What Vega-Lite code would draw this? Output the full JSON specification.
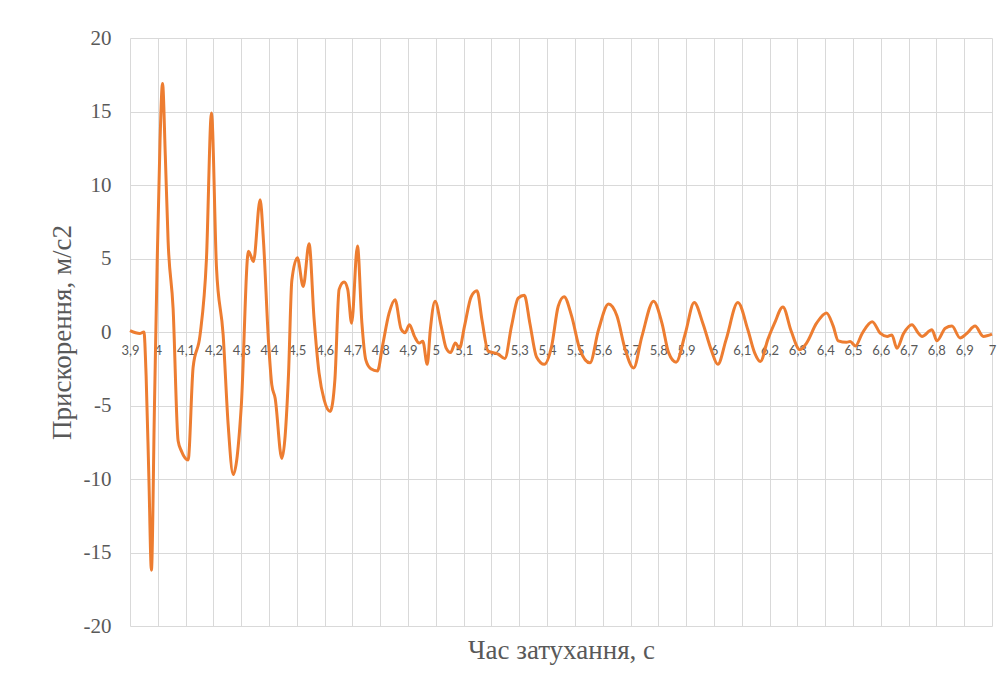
{
  "$schema": "https://vega.github.io/schema/vega-lite/v6.json",
  "width": 862,
  "height": 588,
  "autosize": {"type": "none"},
  "padding": {"left": 130, "top": 38, "right": 16, "bottom": 58},
  "background": "white",
  "config": {
    "view": {"stroke": null},
    "font": "Liberation Serif",
    "axis": {"gridColor": "#D9D9D9", "gridWidth": 1, "labelColor": "#595959", "titleColor": "#595959", "labelFont": "Liberation Serif", "titleFont": "Liberation Serif", "titleFontWeight": "normal"}
  },
  "data": {"values": [
    {"t": 3.900, "a": 0.1}, {"t": 3.920, "a": -0.05}, {"t": 3.935, "a": -0.1}, {"t": 3.950, "a": 0.0},
    {"t": 3.958, "a": -3}, {"t": 3.968, "a": -10}, {"t": 3.977, "a": -16.2}, {"t": 3.988, "a": -5},
    {"t": 3.998, "a": 5}, {"t": 4.008, "a": 13}, {"t": 4.017, "a": 16.9}, {"t": 4.027, "a": 12},
    {"t": 4.037, "a": 6.2}, {"t": 4.055, "a": 1.6}, {"t": 4.073, "a": -7.4}, {"t": 4.085, "a": -8.1},
    {"t": 4.109, "a": -8.7}, {"t": 4.127, "a": -2.4}, {"t": 4.152, "a": -0.2}, {"t": 4.175, "a": 5.0},
    {"t": 4.193, "a": 14.9}, {"t": 4.211, "a": 4.4}, {"t": 4.235, "a": -0.2}, {"t": 4.253, "a": -6.3},
    {"t": 4.271, "a": -9.7}, {"t": 4.300, "a": -5.1}, {"t": 4.326, "a": 5.5}, {"t": 4.344, "a": 4.8},
    {"t": 4.368, "a": 9.0}, {"t": 4.380, "a": 6.2}, {"t": 4.398, "a": -0.6}, {"t": 4.410, "a": -3.6},
    {"t": 4.422, "a": -4.5}, {"t": 4.446, "a": -8.6}, {"t": 4.470, "a": -2.9}, {"t": 4.482, "a": 3.5},
    {"t": 4.502, "a": 5.05}, {"t": 4.523, "a": 3.1}, {"t": 4.544, "a": 6.0}, {"t": 4.562, "a": 0.9},
    {"t": 4.580, "a": -2.8}, {"t": 4.598, "a": -4.6}, {"t": 4.620, "a": -5.4}, {"t": 4.637, "a": -3.2},
    {"t": 4.652, "a": 2.9}, {"t": 4.670, "a": 3.4}, {"t": 4.683, "a": 2.9}, {"t": 4.697, "a": 0.6},
    {"t": 4.718, "a": 5.85}, {"t": 4.734, "a": 0.6}, {"t": 4.748, "a": -1.9}, {"t": 4.766, "a": -2.5},
    {"t": 4.790, "a": -2.65}, {"t": 4.808, "a": -0.95}, {"t": 4.832, "a": 1.3}, {"t": 4.853, "a": 2.2},
    {"t": 4.875, "a": 0.2}, {"t": 4.889, "a": -0.05}, {"t": 4.905, "a": 0.5}, {"t": 4.923, "a": -0.3},
    {"t": 4.940, "a": -0.75}, {"t": 4.953, "a": -0.63}, {"t": 4.969, "a": -2.2}, {"t": 4.980, "a": 0.16},
    {"t": 4.997, "a": 2.1}, {"t": 5.019, "a": 0.4}, {"t": 5.037, "a": -1.1}, {"t": 5.053, "a": -1.4},
    {"t": 5.070, "a": -0.75}, {"t": 5.085, "a": -1.1}, {"t": 5.103, "a": 0.4}, {"t": 5.127, "a": 2.4},
    {"t": 5.148, "a": 2.8}, {"t": 5.166, "a": 0.8}, {"t": 5.188, "a": -1.3}, {"t": 5.224, "a": -1.5},
    {"t": 5.248, "a": -1.8}, {"t": 5.272, "a": 0.4}, {"t": 5.296, "a": 2.3}, {"t": 5.318, "a": 2.5},
    {"t": 5.338, "a": 0.6}, {"t": 5.362, "a": -1.7}, {"t": 5.390, "a": -2.2}, {"t": 5.416, "a": -1.0},
    {"t": 5.440, "a": 1.75}, {"t": 5.461, "a": 2.4}, {"t": 5.488, "a": 1.1}, {"t": 5.518, "a": -1.2},
    {"t": 5.554, "a": -2.1}, {"t": 5.585, "a": 0.15}, {"t": 5.621, "a": 1.9}, {"t": 5.651, "a": 1.1},
    {"t": 5.681, "a": -1.2}, {"t": 5.711, "a": -2.45}, {"t": 5.741, "a": -0.3}, {"t": 5.783, "a": 2.1},
    {"t": 5.813, "a": 0.6}, {"t": 5.837, "a": -1.4}, {"t": 5.864, "a": -2.05}, {"t": 5.897, "a": -0.1},
    {"t": 5.929, "a": 2.0}, {"t": 5.960, "a": 0.6}, {"t": 5.990, "a": -1.2}, {"t": 6.014, "a": -2.2},
    {"t": 6.044, "a": -0.5}, {"t": 6.086, "a": 2.0}, {"t": 6.122, "a": 0.15}, {"t": 6.146, "a": -1.4},
    {"t": 6.167, "a": -2.0}, {"t": 6.194, "a": -0.5}, {"t": 6.218, "a": 0.6}, {"t": 6.248, "a": 1.7},
    {"t": 6.278, "a": 0.05}, {"t": 6.309, "a": -1.2}, {"t": 6.333, "a": -0.75}, {"t": 6.369, "a": 0.6},
    {"t": 6.405, "a": 1.3}, {"t": 6.429, "a": 0.4}, {"t": 6.447, "a": -0.6}, {"t": 6.477, "a": -0.7},
    {"t": 6.490, "a": -0.65}, {"t": 6.509, "a": -0.95}, {"t": 6.533, "a": -0.1}, {"t": 6.569, "a": 0.7},
    {"t": 6.599, "a": -0.1}, {"t": 6.623, "a": -0.3}, {"t": 6.640, "a": -0.2}, {"t": 6.658, "a": -1.1},
    {"t": 6.682, "a": -0.1}, {"t": 6.712, "a": 0.5}, {"t": 6.736, "a": -0.1}, {"t": 6.748, "a": -0.3},
    {"t": 6.784, "a": 0.15}, {"t": 6.802, "a": -0.6}, {"t": 6.832, "a": 0.25}, {"t": 6.856, "a": 0.4},
    {"t": 6.885, "a": -0.4}, {"t": 6.909, "a": -0.1}, {"t": 6.939, "a": 0.4}, {"t": 6.969, "a": -0.3},
    {"t": 7.000, "a": -0.15}
  ]},
  "mark": {"type": "line", "interpolate": "monotone", "color": "#ED7D31", "strokeWidth": 3},
  "encoding": {
    "x": {
      "field": "t", "type": "quantitative",
      "scale": {"domain": [3.9, 7], "nice": false, "zero": false},
      "axis": {
        "values": [3.9, 4.0, 4.1, 4.2, 4.3, 4.4, 4.5, 4.6, 4.7, 4.8, 4.9, 5.0, 5.1, 5.2, 5.3, 5.4, 5.5, 5.6, 5.7, 5.8, 5.9, 6.0, 6.1, 6.2, 6.3, 6.4, 6.5, 6.6, 6.7, 6.8, 6.9, 7.0],
        "labelExpr": "replace(format(datum.value, '.1~f'), '.', ',')",
        "offset": -294,
        "domain": false,
        "ticks": false,
        "labelPadding": 12,
        "labelFont": "Lato",
        "labelFontSize": 13,
        "labelOverlap": false,
        "labelFlush": false,
        "labelBound": false,
        "title": "Час затухання, с",
        "titleFontSize": 27,
        "titleY": 326,
        "titleBaseline": "alphabetic",
        "titleX": 431
      }
    },
    "y": {
      "field": "a", "type": "quantitative",
      "scale": {"domain": [-20, 20], "nice": false},
      "axis": {
        "values": [-20, -15, -10, -5, 0, 5, 10, 15, 20],
        "labelExpr": "'' + datum.value",
        "domain": false,
        "ticks": false,
        "labelPadding": 19,
        "labelFontSize": 21,
        "title": "Прискорення, м/с2",
        "titleFontSize": 27,
        "titleX": -68,
        "titleY": 294,
        "titleBaseline": "middle",
        "titleAngle": -90
      }
    }
  }
}
